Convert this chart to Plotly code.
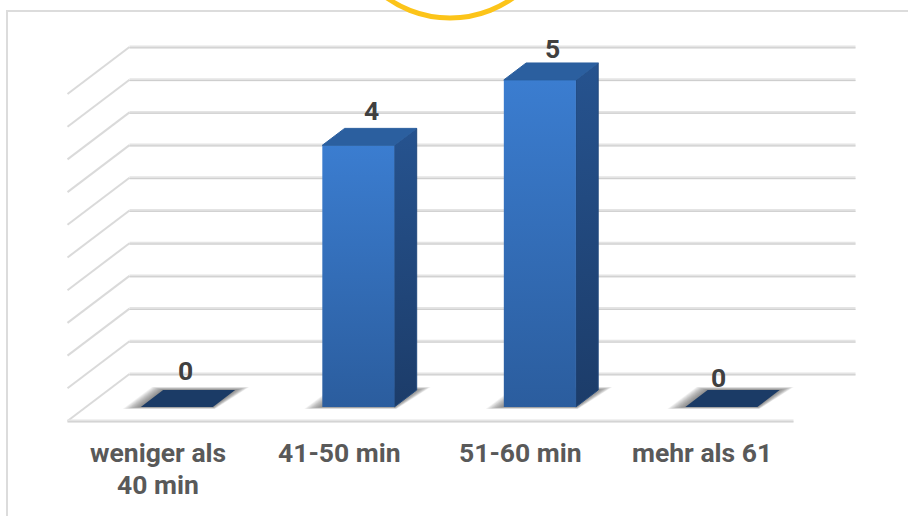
import plotly.graph_objects as go

categories = ["weniger als<br>40 min", "41-50 min", "51-60 min", "mehr als 61"]
values = [0, 4, 5, 0]
grid_levels = [0, 0.5, 1, 1.5, 2, 2.5, 3, 3.5, 4, 4.5, 5]

# hand placement of the value labels, pixels relative to the middle of the bar top
label_nudge = [(-3, 28), (2, 26), (1, 23), (-14, 21)]

W, H = 908, 516
UNIT_X = 181.5   # pixels per category
UNIT_Y = 65.4    # pixels per value unit
LEFT_PX = 67.5   # front floor, left end
FLOOR_PX = 421.0 # front floor, value 0
DEPTH_X = 62 / UNIT_X   # oblique offset of the back wall
DEPTH_Y = 47 / UNIT_Y
BAR_W = 0.397
BAR_D0, BAR_D1 = 0.30, 0.66
N = len(categories)
px_x = 1 / UNIT_X
px_y = 1 / UNIT_Y


def proj(x, v, d=0.0):
    """Oblique projection of (category position, value, depth) onto the plane."""
    return x + d * DEPTH_X, v + d * DEPTH_Y


def poly(points, color=None, opacity=1.0, gradient=None, edge=None, edge_w=0):
    xs, ys = zip(*points)
    kw = dict(fillgradient=gradient) if gradient else dict(fillcolor=color)
    return go.Scatter(
        x=list(xs) + [xs[0]], y=list(ys) + [ys[0]], mode="lines", fill="toself",
        line=dict(width=edge_w, color=edge), opacity=opacity,
        hoverinfo="skip", showlegend=False, **kw,
    )


def vgrad(top, bottom):
    return dict(type="vertical", colorscale=[[0, bottom], [1, top]])


def line(xs, ys, color, width):
    return go.Scatter(x=xs, y=ys, mode="lines", line=dict(color=color, width=width),
                      hoverinfo="skip", showlegend=False)


fig = go.Figure()

# walls: back-wall lines continued by a diagonal on the left side
for level in grid_levels:
    a, b, c = proj(0, level, 0), proj(0, level, 1), proj(N, level, 1)
    fig.add_trace(line([a[0], b[0]], [a[1], b[1]], "#dadada", 2))
    fig.add_trace(line([b[0], c[0]], [b[1], c[1]], "#e4e4e4", 3))
    fig.add_trace(line([b[0], c[0]], [b[1] - px_y * 0.8, c[1] - px_y * 0.8], "#cecece", 1))

# front edge of the floor
fl, fr = proj(0, 0, 0), proj(N, 0, 0)
fig.add_trace(line([fl[0], fr[0]], [fl[1], fr[1]], "#e4e4e4", 3))
fig.add_trace(line([fl[0], fr[0]], [fl[1] - px_y * 0.8, fr[1] - px_y * 0.8], "#cecece", 1))

for i, val in enumerate(values):
    x0 = i + 0.5 - BAR_W / 2
    x1 = i + 0.5 + BAR_W / 2

    # soft contact shadow on the floor, built from narrowing translucent layers
    steps = 12
    bl = proj(x0, 0, BAR_D0)
    br = proj(x1, 0, BAR_D0)
    tr = proj(x1, 0, BAR_D1)
    tl = proj(x0, 0, BAR_D1)
    for k in range(steps, 0, -1):
        t = k / steps
        fig.add_trace(poly([
            (bl[0] - t * 18 * px_x, bl[1] - t * 2 * px_y),
            (br[0] + t * 2 * px_x, br[1] - t * 2 * px_y),
            (tr[0] + t * 14 * px_x, tr[1] + t * 3 * px_y),
            (tl[0] - t * 11 * px_x, tl[1] + t * 3 * px_y),
        ], color="#555555", opacity=0.075))

    if val > 0:
        # right side
        fig.add_trace(poly([
            proj(x1, 0, BAR_D0), proj(x1, 0, BAR_D1),
            proj(x1, val, BAR_D1), proj(x1, val, BAR_D0),
        ], gradient=vgrad("#26538f", "#1c3c69"), edge="#22497d", edge_w=1))
        # front face
        fig.add_trace(poly([
            proj(x0, 0, BAR_D0), proj(x1, 0, BAR_D0),
            proj(x1, val, BAR_D0), proj(x0, val, BAR_D0),
        ], gradient=vgrad("#3b7dd0", "#2b5d9e")))
    # top face
    top_color = "#2b5f9f" if val > 0 else "#1b3b66"
    fig.add_trace(poly([
        proj(x0, val, BAR_D0), proj(x1, val, BAR_D0),
        proj(x1, val, BAR_D1), proj(x0, val, BAR_D1),
    ], color=top_color, edge=top_color, edge_w=1 if val > 0 else 0))

    # value label above the bar
    lx, ly = proj(i + 0.5, val, (BAR_D0 + BAR_D1) / 2)
    dx, dy = label_nudge[i]
    fig.add_annotation(
        x=lx, y=ly, text=str(val), showarrow=False, xanchor="center", yanchor="middle",
        xshift=dx, yshift=dy, font=dict(family="Roboto", size=26.5, color="#404040", weight="bold"),
    )

    # category label, one annotation per line to keep the tight line spacing
    for row, part in enumerate(categories[i].split("<br>")):
        fig.add_annotation(
            x=i + 0.5, y=0, text=part, showarrow=False, xanchor="center", yanchor="middle",
            xshift=-0.5, yshift=-31 - 32 * row,
            font=dict(family="Roboto", size=26.5, color="#595959", weight="bold"),
        )

frame = "#dcdcdc"
fig.update_layout(
    width=W, height=H, margin=dict(l=0, r=0, t=0, b=0),
    paper_bgcolor="white", plot_bgcolor="white", showlegend=False,
    xaxis=dict(visible=False, range=[-LEFT_PX / UNIT_X, (W - LEFT_PX) / UNIT_X]),
    yaxis=dict(visible=False, range=[(FLOOR_PX - H) / UNIT_Y, FLOOR_PX / UNIT_Y]),
    shapes=[
        # card outline
        dict(type="line", xref="paper", yref="paper", x0=6 / W, x1=1, y0=1 - 11 / H, y1=1 - 11 / H,
             line=dict(color=frame, width=2), layer="below"),
        dict(type="line", xref="paper", yref="paper", x0=7 / W, x1=7 / W, y0=0, y1=1 - 11 / H,
             line=dict(color=frame, width=2), layer="below"),
        # ring overlapping the card from above
        dict(type="circle", xref="paper", yref="paper",
             x0=(450 - 109) / W, x1=(450 + 109) / W, y0=1 - 18 / H, y1=1 + 200 / H,
             line=dict(color="#fcc419", width=5), fillcolor="white", layer="above"),
    ],
)

fig.write_html("out.html")
